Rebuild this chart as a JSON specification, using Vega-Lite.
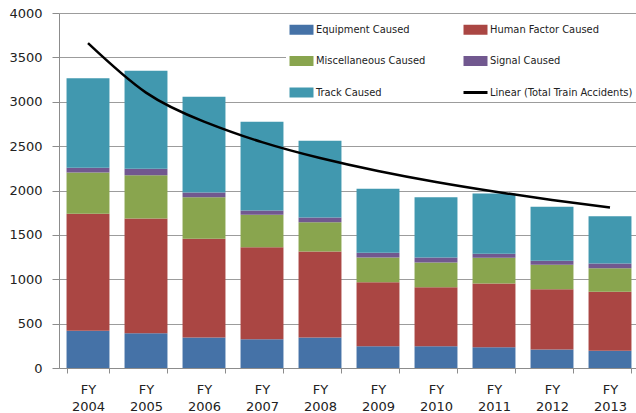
{
  "$schema": "https://vega.github.io/schema/vega-lite/v6.json",
  "autosize": "none",
  "width": 580,
  "height": 355,
  "padding": {"left": 59, "top": 13, "right": 0, "bottom": 45},
  "background": "white",
  "datasets": {
    "causes": [
      {"year": "FY 2004", "cause": "Equipment Caused", "n": 419},
      {"year": "FY 2004", "cause": "Human Factor Caused", "n": 1318},
      {"year": "FY 2004", "cause": "Miscellaneous Caused", "n": 466},
      {"year": "FY 2004", "cause": "Signal Caused", "n": 53},
      {"year": "FY 2004", "cause": "Track Caused", "n": 1009},
      {"year": "FY 2005", "cause": "Equipment Caused", "n": 392},
      {"year": "FY 2005", "cause": "Human Factor Caused", "n": 1293},
      {"year": "FY 2005", "cause": "Miscellaneous Caused", "n": 488},
      {"year": "FY 2005", "cause": "Signal Caused", "n": 71},
      {"year": "FY 2005", "cause": "Track Caused", "n": 1105},
      {"year": "FY 2006", "cause": "Equipment Caused", "n": 344},
      {"year": "FY 2006", "cause": "Human Factor Caused", "n": 1112},
      {"year": "FY 2006", "cause": "Miscellaneous Caused", "n": 469},
      {"year": "FY 2006", "cause": "Signal Caused", "n": 52},
      {"year": "FY 2006", "cause": "Track Caused", "n": 1079},
      {"year": "FY 2007", "cause": "Equipment Caused", "n": 325},
      {"year": "FY 2007", "cause": "Human Factor Caused", "n": 1036},
      {"year": "FY 2007", "cause": "Miscellaneous Caused", "n": 365},
      {"year": "FY 2007", "cause": "Signal Caused", "n": 49},
      {"year": "FY 2007", "cause": "Track Caused", "n": 999},
      {"year": "FY 2008", "cause": "Equipment Caused", "n": 344},
      {"year": "FY 2008", "cause": "Human Factor Caused", "n": 969},
      {"year": "FY 2008", "cause": "Miscellaneous Caused", "n": 330},
      {"year": "FY 2008", "cause": "Signal Caused", "n": 53},
      {"year": "FY 2008", "cause": "Track Caused", "n": 864},
      {"year": "FY 2009", "cause": "Equipment Caused", "n": 246},
      {"year": "FY 2009", "cause": "Human Factor Caused", "n": 721},
      {"year": "FY 2009", "cause": "Miscellaneous Caused", "n": 278},
      {"year": "FY 2009", "cause": "Signal Caused", "n": 53},
      {"year": "FY 2009", "cause": "Track Caused", "n": 721},
      {"year": "FY 2010", "cause": "Equipment Caused", "n": 246},
      {"year": "FY 2010", "cause": "Human Factor Caused", "n": 664},
      {"year": "FY 2010", "cause": "Miscellaneous Caused", "n": 279},
      {"year": "FY 2010", "cause": "Signal Caused", "n": 56},
      {"year": "FY 2010", "cause": "Track Caused", "n": 680},
      {"year": "FY 2011", "cause": "Equipment Caused", "n": 235},
      {"year": "FY 2011", "cause": "Human Factor Caused", "n": 717},
      {"year": "FY 2011", "cause": "Miscellaneous Caused", "n": 289},
      {"year": "FY 2011", "cause": "Signal Caused", "n": 46},
      {"year": "FY 2011", "cause": "Track Caused", "n": 679},
      {"year": "FY 2012", "cause": "Equipment Caused", "n": 208},
      {"year": "FY 2012", "cause": "Human Factor Caused", "n": 680},
      {"year": "FY 2012", "cause": "Miscellaneous Caused", "n": 275},
      {"year": "FY 2012", "cause": "Signal Caused", "n": 45},
      {"year": "FY 2012", "cause": "Track Caused", "n": 608},
      {"year": "FY 2013", "cause": "Equipment Caused", "n": 193},
      {"year": "FY 2013", "cause": "Human Factor Caused", "n": 666},
      {"year": "FY 2013", "cause": "Miscellaneous Caused", "n": 266},
      {"year": "FY 2013", "cause": "Signal Caused", "n": 53},
      {"year": "FY 2013", "cause": "Track Caused", "n": 532}
    ],
    "trend": [
      {"year": "FY 2004", "trend": 3660},
      {"year": "FY 2005", "trend": 3103},
      {"year": "FY 2006", "trend": 2777},
      {"year": "FY 2007", "trend": 2545},
      {"year": "FY 2008", "trend": 2366},
      {"year": "FY 2009", "trend": 2219},
      {"year": "FY 2010", "trend": 2095},
      {"year": "FY 2011", "trend": 1988},
      {"year": "FY 2012", "trend": 1893},
      {"year": "FY 2013", "trend": 1808}
    ]
  },
  "config": {
    "view": {"stroke": null},
    "axis": {
      "labelFont": "DejaVu Sans",
      "labelFontSize": 13,
      "labelColor": "#222222",
      "domainColor": "#8c8c8c",
      "tickColor": "#8c8c8c",
      "gridColor": "#9c9c9c",
      "title": null
    }
  },
  "layer": [
    {
      "data": {"name": "causes"},
      "mark": {"type": "bar"},
      "encoding": {
        "x": {
          "field": "year",
          "type": "nominal",
          "sort": null,
          "scale": {"paddingInner": 0.26, "paddingOuter": 0.13},
          "axis": {
            "labelAngle": 0,
            "labelExpr": "split(datum.label, ' ')",
            "labelLineHeight": 17,
            "labelPadding": 10,
            "tickBand": "extent",
            "tickSize": 5,
            "grid": false
          }
        },
        "y": {
          "field": "n",
          "type": "quantitative",
          "aggregate": "sum",
          "stack": "zero",
          "scale": {"domain": [0, 4000], "nice": false},
          "axis": {
            "values": [0, 500, 1000, 1500, 2000, 2500, 3000, 3500, 4000],
            "format": "d",
            "tickSize": 7,
            "labelPadding": 10,
            "grid": true,
            "title": null
          }
        },
        "color": {
          "field": "cause",
          "type": "nominal",
          "scale": {
            "domain": ["Equipment Caused", "Human Factor Caused", "Miscellaneous Caused", "Signal Caused", "Track Caused", "Linear (Total Train Accidents)"],
            "range": ["#4572A7", "#AA4643", "#89A54E", "#71588F", "#4198AF", "#000000"]
          },
          "legend": {
            "title": null,
            "orient": "none",
            "direction": "horizontal",
            "legendX": 227,
            "legendY": 8,
            "columns": 2,
            "columnPadding": 37,
            "rowPadding": 19.5,
            "padding": 3,
            "fillColor": "white",
            "labelFont": "DejaVu Sans Condensed",
            "labelFontSize": 11,
            "labelColor": "#222222",
            "labelOffset": 16,
            "labelLimit": 200,
            "symbolSize": 100,
            "symbolStrokeWidth": 0,
            "encode": {
              "symbols": {
                "update": {
                  "shape": {"signal": "datum.value === 'Linear (Total Train Accidents)' ? 'M-1,-0.3L3.8,-0.3L3.8,0.3L-1,0.3Z' : 'M-1,-1L3.8,-1L3.8,1L-1,1Z'"},
                  "fill": {"signal": "scale('color', datum.value)"},
                  "strokeWidth": {"value": 0},
                  "opacity": {"value": 1}
                }
              }
            }
          }
        },
        "order": {"field": "cause", "sort": "ascending"}
      }
    },
    {
      "data": {"name": "trend"},
      "mark": {"type": "line", "interpolate": "natural", "strokeWidth": 2.5},
      "encoding": {
        "x": {"field": "year", "type": "nominal", "sort": null},
        "y": {"field": "trend", "type": "quantitative"},
        "color": {"datum": "Linear (Total Train Accidents)"}
      }
    }
  ]
}
